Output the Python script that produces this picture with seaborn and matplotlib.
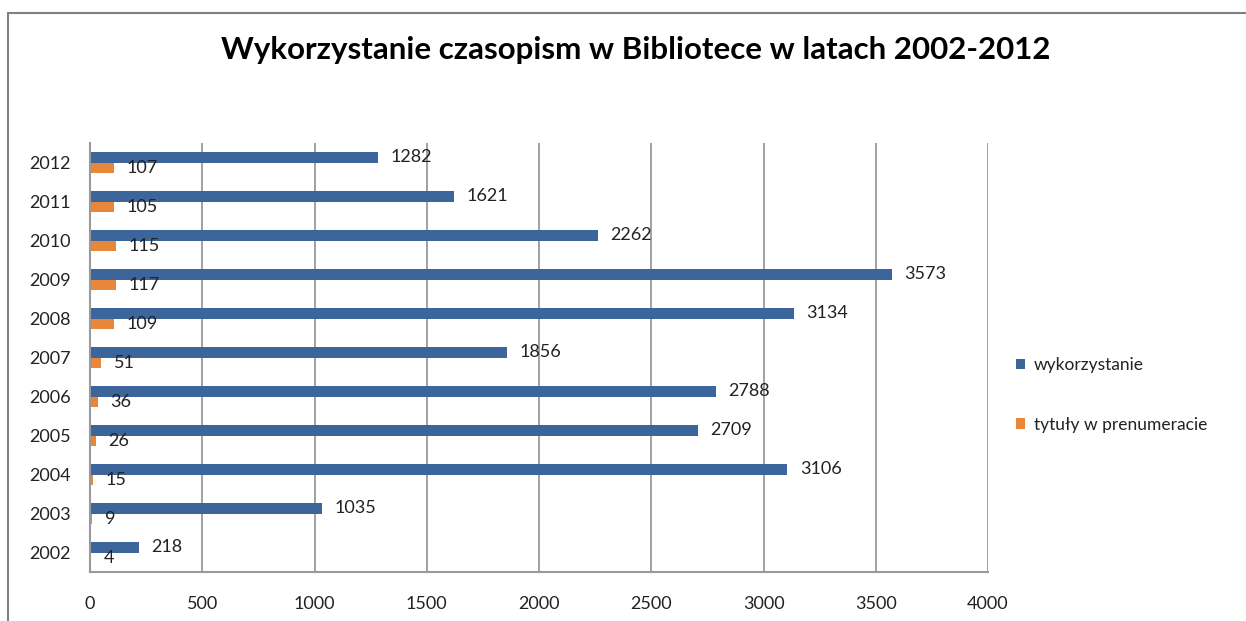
import matplotlib
matplotlib.use("Agg")
import matplotlib.pyplot as plt
import seaborn as sns
import pandas as pd
from matplotlib.lines import Line2D
from matplotlib.patches import Patch

years = ["2002", "2003", "2004", "2005", "2006", "2007", "2008", "2009", "2010", "2011", "2012"]
wykorzystanie = [218, 1035, 3106, 2709, 2788, 1856, 3134, 3573, 2262, 1621, 1282]
tytuly = [4, 9, 15, 26, 36, 51, 109, 117, 115, 105, 107]
series_names = ["wykorzystanie", "tytuły w prenumeracie"]
x_ticks = [0, 500, 1000, 1500, 2000, 2500, 3000, 3500, 4000]
title = "Wykorzystanie czasopism w Bibliotece w latach 2002-2012"

colors = ["#3C659C", "#E8873A"]

df = pd.DataFrame({
    "rok": years * 2,
    "wartosc": wykorzystanie + tytuly,
    "seria": [series_names[0]] * len(years) + [series_names[1]] * len(years),
})

sns.set_theme(style="white")
plt.rcParams["font.family"] = ["Lato", "DejaVu Sans"]

fig = plt.figure(figsize=(12.46, 6.21), dpi=100)
W, H = 1246, 621
ax = fig.add_axes([90 / W, 1 - 572 / H, 898 / W, 429 / H])

order = years[::-1]
sns.barplot(data=df, y="rok", x="wartosc", hue="seria", order=order,
            hue_order=series_names, palette=colors, orient="h",
            width=0.56, ax=ax, legend=False, saturation=1,
            edgecolor="none")

ax.set_xlim(0, 4000)
ax.set_ylim(len(years) - 0.5, -0.5)
ax.set_xticks(x_ticks)
ax.set_xticklabels([str(t) for t in x_ticks])
ax.set_xlabel("")
ax.set_ylabel("")
ax.grid(False)
for t in x_ticks[1:]:
    ax.axvline(t, color="#9a9a9a", lw=1.3, zorder=0)
for s in ["top", "right"]:
    ax.spines[s].set_visible(False)
for s in ["left", "bottom"]:
    ax.spines[s].set_color("#9a9a9a")
    ax.spines[s].set_linewidth(1.5)
ax.tick_params(axis="y", length=0, pad=14, labelsize=13, labelcolor="#222222")
ax.tick_params(axis="x", length=0, pad=17, labelsize=13, labelcolor="#222222")

for cont, vals in zip(ax.containers, [wykorzystanie, tytuly]):
    lookup = dict(zip(years, vals))
    lab = [str(lookup[y]) for y in order]
    ax.bar_label(cont, labels=lab, padding=9, fontsize=13, color="#222222")

fig.text(636 / W, 1 - 50 / H, title, ha="center", va="center",
         fontsize=22.5, fontweight="bold", color="black")

handles = [Patch(facecolor=c, edgecolor="none") for c in colors]
fig.legend(handles, series_names, loc="center left",
           bbox_to_anchor=(1000 / W, 1 - 395 / H), frameon=False,
           fontsize=12.5, handlelength=0.55, handleheight=0.55,
           labelspacing=2.5, handletextpad=0.5, labelcolor="#222222")

fig.add_artist(Line2D([8 / W, 1.0], [1 - 13 / H, 1 - 13 / H], color="#808080", lw=1.5))
fig.add_artist(Line2D([8 / W, 8 / W], [0, 1 - 13 / H], color="#808080", lw=1.5))

fig.savefig("out.png", dpi=100)
